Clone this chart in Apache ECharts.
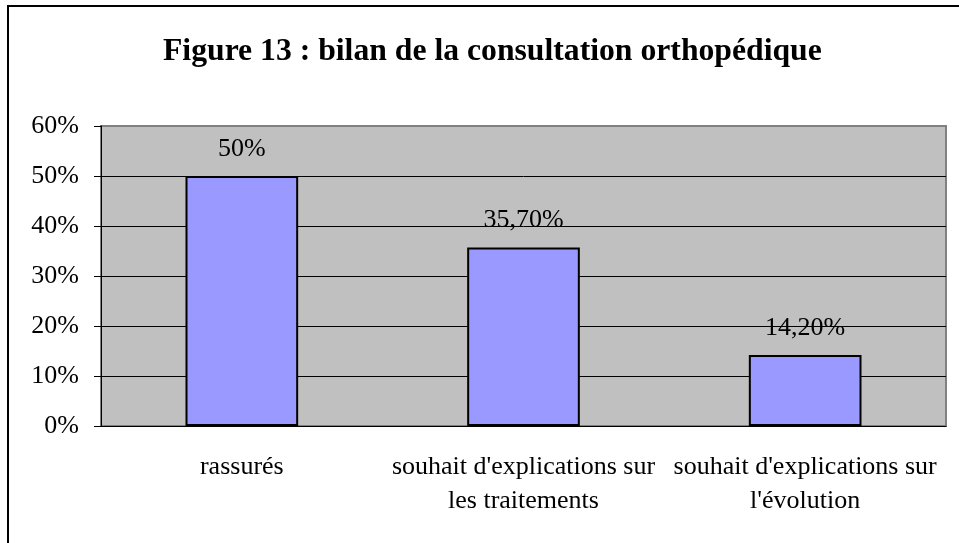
<!DOCTYPE html>
<html>
<head>
<meta charset="utf-8">
<script src="https://cdn.jsdelivr.net/npm/echarts@6/dist/echarts.min.js"></script>
<style>
    body { margin: 0; background: #fff; }
    #chart { width: 959px; height: 543px; }
</style>
</head>
<body>
<div id="chart"></div>
<script>
// chart data
var categories = ['rassurés', "souhait d'explications sur\nles traitements", "souhait d'explications sur\nl'évolution"];
var values = [50, 35.7, 14.2];
var yTicks = [0, 10, 20, 30, 40, 50, 60];

function pct(v) {
    if (v % 1 === 0) return v + '%';
    return v.toFixed(2).replace('.', ',') + '%';
}

var chart = echarts.init(document.getElementById('chart'));
var serif = '"Liberation Serif", "Times New Roman", serif';
var option = {
    animation: false,
    title: {
        text: 'Figure 13 : bilan de la consultation orthopédique',
        left: 158,
        top: 31,
        textStyle: {
            fontFamily: serif,
            fontSize: 31.7,
            fontWeight: 'bold',
            color: '#000'
        }
    },
    graphic: [{
        type: 'polyline',
        shape: { points: [[8, 543], [8, 6], [959, 6]] },
        style: { stroke: '#000', lineWidth: 2, fill: null }
    }],
    grid: {
        left: 101,
        right: 13,
        top: 126,
        bottom: 117,
        show: true,
        backgroundColor: '#C0C0C0',
        borderColor: '#808080',
        borderWidth: 2
    },
    xAxis: {
        type: 'category',
        data: categories,
        axisLine: { lineStyle: { color: '#000', width: 1 } },
        axisTick: { length: 8, lineStyle: { color: '#000' } },
        axisLabel: {
            interval: 0,
            margin: 24,
            fontFamily: serif,
            fontSize: 26,
            lineHeight: 34,
            color: '#000'
        }
    },
    yAxis: {
        type: 'value',
        min: yTicks[0],
        max: yTicks[yTicks.length - 1],
        interval: yTicks[1] - yTicks[0],
        axisLine: { show: true, lineStyle: { color: '#000', width: 1 } },
        axisTick: { show: true, length: 7, lineStyle: { color: '#000' } },
        axisLabel: {
            margin: 22,
            fontFamily: serif,
            fontSize: 26,
            color: '#000',
            formatter: function (v) { return v + '%'; }
        },
        splitLine: {
            lineStyle: {
                color: ['#000', '#000', '#000', '#000', '#000', '#000', '#808080'],
                width: 1
            }
        }
    },
    series: [{
        type: 'bar',
        data: values,
        barWidth: '40%',
        itemStyle: {
            color: '#9999FF',
            borderColor: '#000',
            borderWidth: 2
        },
        label: {
            show: true,
            position: 'top',
            distance: 14,
            fontFamily: serif,
            fontSize: 26,
            color: '#000',
            formatter: function (p) { return pct(p.value); }
        }
    }]
};
chart.setOption(option);
</script>
</body>
</html>
